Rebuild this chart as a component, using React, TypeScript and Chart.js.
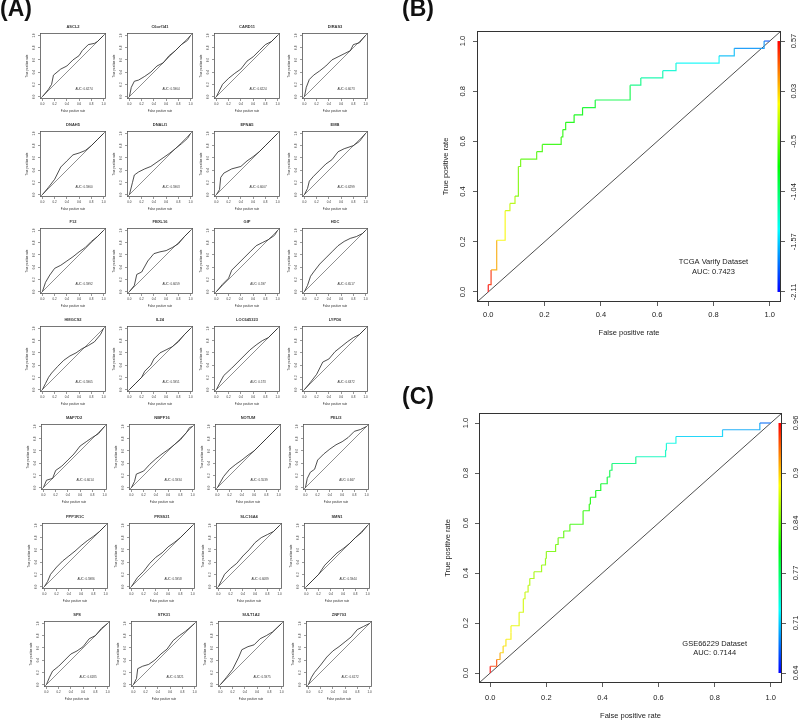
import React, { useEffect, useRef } from "react";
import { Chart, registerables } from "chart.js";
Chart.register(...registerables);

const FONT = "'Liberation Sans', Arial, Helvetica, sans-serif";

// ---------- shared axis data ----------
const AXIS_TICKS = [0, 0.2, 0.4, 0.6, 0.8, 1.0];
const AXIS_RANGE = [-0.04, 1.04];

// ---------- panel A: 28 single-gene ROC curves ----------
const GENES = [
  "ASCL2", "C6orf141", "CARD11", "DIRAS3",
  "DNAH5", "DNALI1", "EFNA5", "EMB",
  "F12", "FBXL16", "GIP", "HDC",
  "HMGCS2", "IL24", "LOC645323", "LYPD6",
  "MAP7D2", "NBPF16", "NOTUM", "PELI3",
  "PPP1R1C", "PRSS21", "SLC16A4", "SMN1",
  "SP8", "STK31", "SULT1A2", "ZNF703",
];
const AUC_VALUES = [
  "0.6274", "0.5964", "0.6224", "0.6073",
  "0.5960", "0.5963", "0.6007", "0.6299",
  "0.5992", "0.6059", "0.597", "0.6517",
  "0.5965", "0.5951", "0.573", "0.6372",
  "0.6014", "0.5934", "0.5539", "0.667",
  "0.5986", "0.5958", "0.6089", "0.5944",
  "0.6185", "0.5821", "0.5975", "0.6172",
];
const SMALL_FPR: number[][] = [
  [0, 0.1, 0.15, 0.18, 0.3, 0.4, 0.5, 0.6, 0.65, 0.75, 0.85, 0.9, 1],
  [0, 0.03, 0.08, 0.15, 0.25, 0.35, 0.45, 0.55, 0.65, 0.75, 0.85, 0.95, 1],
  [0, 0.1, 0.2, 0.3, 0.4, 0.5, 0.6, 0.7, 0.8, 0.9, 1],
  [0, 0.03, 0.08, 0.15, 0.25, 0.35, 0.45, 0.55, 0.65, 0.75, 0.8, 0.9, 1],
  [0, 0.1, 0.2, 0.3, 0.4, 0.5, 0.6, 0.7, 0.8, 0.9, 1],
  [0, 0.05, 0.08, 0.15, 0.25, 0.35, 0.45, 0.55, 0.65, 0.75, 0.85, 0.95, 1],
  [0, 0.05, 0.07, 0.12, 0.25, 0.4, 0.5, 0.6, 0.7, 0.8, 0.9, 1],
  [0, 0.05, 0.08, 0.15, 0.25, 0.35, 0.45, 0.55, 0.65, 0.8, 0.9, 1],
  [0, 0.05, 0.12, 0.2, 0.3, 0.4, 0.5, 0.6, 0.7, 0.8, 0.9, 1],
  [0, 0.08, 0.12, 0.2, 0.3, 0.4, 0.5, 0.6, 0.7, 0.8, 0.9, 1],
  [0, 0.1, 0.2, 0.25, 0.35, 0.45, 0.55, 0.65, 0.75, 0.85, 0.95, 1],
  [0, 0.05, 0.1, 0.15, 0.25, 0.35, 0.45, 0.55, 0.65, 0.75, 0.85, 0.95, 1],
  [0, 0.05, 0.1, 0.15, 0.25, 0.35, 0.45, 0.55, 0.65, 0.75, 0.85, 0.95, 1],
  [0, 0.1, 0.2, 0.25, 0.35, 0.4, 0.5, 0.6, 0.7, 0.8, 0.9, 1],
  [0, 0.05, 0.12, 0.25, 0.35, 0.45, 0.55, 0.65, 0.75, 0.85, 1],
  [0, 0.1, 0.2, 0.3, 0.4, 0.5, 0.6, 0.7, 0.8, 0.9, 1],
  [0, 0.05, 0.15, 0.2, 0.3, 0.4, 0.5, 0.6, 0.7, 0.8, 0.9, 1],
  [0, 0.05, 0.08, 0.2, 0.3, 0.4, 0.5, 0.6, 0.7, 0.8, 0.9, 0.95, 1],
  [0, 0.1, 0.2, 0.3, 0.4, 0.5, 0.6, 0.7, 0.8, 0.9, 1],
  [0, 0.03, 0.08, 0.15, 0.2, 0.3, 0.4, 0.5, 0.6, 0.7, 0.8, 0.9, 1],
  [0, 0.05, 0.1, 0.2, 0.3, 0.4, 0.5, 0.6, 0.7, 0.8, 0.9, 1],
  [0, 0.1, 0.2, 0.3, 0.4, 0.5, 0.6, 0.7, 0.8, 0.9, 1],
  [0, 0.05, 0.1, 0.2, 0.3, 0.4, 0.5, 0.6, 0.7, 0.8, 0.9, 1],
  [0, 0.1, 0.2, 0.3, 0.4, 0.5, 0.6, 0.7, 0.8, 0.9, 1],
  [0, 0.05, 0.1, 0.2, 0.3, 0.4, 0.5, 0.6, 0.7, 0.8, 0.9, 1],
  [0, 0.05, 0.07, 0.15, 0.25, 0.35, 0.45, 0.55, 0.65, 0.75, 0.85, 1],
  [0, 0.1, 0.2, 0.3, 0.35, 0.45, 0.55, 0.65, 0.75, 0.85, 1],
  [0, 0.05, 0.1, 0.2, 0.3, 0.4, 0.5, 0.6, 0.7, 0.8, 0.9, 1],
];
const SMALL_TPR: number[][] = [
  [0, 0.12, 0.2, 0.35, 0.45, 0.5, 0.6, 0.67, 0.75, 0.85, 0.87, 0.9, 1],
  [0, 0.15, 0.25, 0.27, 0.33, 0.4, 0.5, 0.55, 0.67, 0.75, 0.85, 0.92, 1],
  [0, 0.2, 0.3, 0.38, 0.45, 0.58, 0.65, 0.75, 0.85, 0.9, 1],
  [0, 0.15, 0.28, 0.35, 0.42, 0.5, 0.6, 0.65, 0.7, 0.75, 0.85, 0.88, 1],
  [0, 0.12, 0.25, 0.45, 0.55, 0.65, 0.68, 0.72, 0.8, 0.9, 1],
  [0, 0.2, 0.32, 0.37, 0.42, 0.46, 0.53, 0.6, 0.67, 0.75, 0.83, 0.92, 1],
  [0, 0.08, 0.28, 0.35, 0.42, 0.46, 0.55, 0.62, 0.7, 0.8, 0.9, 1],
  [0, 0.1, 0.22, 0.3, 0.4, 0.5, 0.57, 0.7, 0.75, 0.8, 0.87, 1],
  [0, 0.15, 0.27, 0.38, 0.43, 0.5, 0.57, 0.65, 0.72, 0.82, 0.9, 1],
  [0, 0.1, 0.28, 0.32, 0.5, 0.62, 0.65, 0.67, 0.72, 0.78, 0.9, 1],
  [0, 0.12, 0.22, 0.35, 0.45, 0.55, 0.65, 0.75, 0.8, 0.85, 0.92, 1],
  [0, 0.1, 0.25, 0.32, 0.45, 0.55, 0.65, 0.75, 0.82, 0.87, 0.9, 0.95, 1],
  [0, 0.1, 0.2, 0.27, 0.38, 0.48, 0.55, 0.6, 0.67, 0.72, 0.78, 0.9, 1],
  [0, 0.1, 0.2, 0.3, 0.4, 0.5, 0.6, 0.65, 0.7, 0.78, 0.9, 1],
  [0, 0.1, 0.23, 0.35, 0.45, 0.55, 0.65, 0.73, 0.8, 0.85, 1],
  [0, 0.12, 0.25, 0.45, 0.5, 0.62, 0.7, 0.78, 0.85, 0.9, 1],
  [0, 0.12, 0.15, 0.28, 0.35, 0.45, 0.55, 0.68, 0.75, 0.82, 0.88, 1],
  [0, 0.1, 0.22, 0.27, 0.38, 0.47, 0.55, 0.62, 0.7, 0.78, 0.9, 0.98, 1],
  [0, 0.18, 0.3, 0.38, 0.45, 0.53, 0.6, 0.7, 0.8, 0.9, 1],
  [0, 0.15, 0.25, 0.3, 0.45, 0.55, 0.63, 0.7, 0.75, 0.82, 0.92, 0.95, 1],
  [0, 0.08, 0.2, 0.32, 0.42, 0.5, 0.58, 0.67, 0.75, 0.82, 0.9, 1],
  [0, 0.15, 0.25, 0.38, 0.48, 0.55, 0.65, 0.72, 0.8, 0.9, 1],
  [0, 0.1, 0.2, 0.3, 0.38, 0.5, 0.6, 0.72, 0.8, 0.85, 0.9, 1],
  [0, 0.1, 0.2, 0.35, 0.45, 0.55, 0.62, 0.7, 0.8, 0.88, 1],
  [0, 0.12, 0.22, 0.3, 0.4, 0.5, 0.55, 0.62, 0.75, 0.8, 0.92, 1],
  [0, 0.1, 0.26, 0.3, 0.33, 0.4, 0.5, 0.58, 0.72, 0.8, 0.87, 1],
  [0, 0.12, 0.25, 0.45, 0.57, 0.62, 0.65, 0.75, 0.8, 0.86, 1],
  [0, 0.12, 0.2, 0.32, 0.45, 0.55, 0.62, 0.7, 0.78, 0.9, 0.95, 1],
];

// ---------- panel B: TCGA validation ----------
const B_FPR = [0, 0, 0.01, 0.03, 0.06, 0.077, 0.095, 0.107, 0.115, 0.172, 0.192, 0.259, 0.265, 0.275, 0.305, 0.335, 0.38, 0.504, 0.542, 0.62, 0.667, 0.82, 0.874, 0.98, 1.0];
const B_TPR = [0, 0.029, 0.088, 0.206, 0.324, 0.353, 0.382, 0.5, 0.529, 0.559, 0.588, 0.618, 0.647, 0.676, 0.706, 0.735, 0.765, 0.824, 0.853, 0.882, 0.912, 0.941, 0.971, 1.0, 1.0];
const B_CUT = [0.57, 0.57, 0.46, 0.12, -0.10, -0.23, -0.30, -0.44, -0.49, -0.55, -0.60, -0.66, -0.68, -0.71, -0.75, -0.79, -0.86, -0.94, -1.11, -1.22, -1.33, -1.44, -1.61, -1.72, -1.89];
const B_BAR_LABELS = ["-2.11", "-1.57", "-1.04", "-0.5", "0.03", "0.57"];
const B_NOTES = ["TCGA Varify Dataset", "AUC: 0.7423"];

// ---------- panel C: GSE66229 validation ----------
const C_FPR = [0, 0, 0.023, 0.035, 0.046, 0.056, 0.074, 0.074, 0.103, 0.118, 0.124, 0.135, 0.141, 0.156, 0.183, 0.197, 0.2, 0.233, 0.242, 0.262, 0.284, 0.331, 0.353, 0.357, 0.376, 0.394, 0.417, 0.426, 0.434, 0.519, 0.625, 0.628, 0.662, 0.828, 0.961, 1.0];
const C_TPR = [0, 0.027, 0.054, 0.081, 0.108, 0.135, 0.162, 0.189, 0.243, 0.297, 0.324, 0.351, 0.378, 0.405, 0.432, 0.459, 0.486, 0.514, 0.541, 0.568, 0.595, 0.649, 0.676, 0.703, 0.73, 0.757, 0.784, 0.811, 0.838, 0.865, 0.892, 0.919, 0.946, 0.973, 1.0, 1.0];
const C_CUT = [0.96, 0.96, 0.94, 0.907, 0.893, 0.887, 0.883, 0.88, 0.873, 0.867, 0.864, 0.86, 0.856, 0.853, 0.849, 0.845, 0.843, 0.837, 0.833, 0.829, 0.824, 0.816, 0.811, 0.805, 0.8, 0.793, 0.787, 0.78, 0.773, 0.76, 0.74, 0.733, 0.727, 0.707, 0.693, 0.673];
const C_BAR_LABELS = ["0.64", "0.71", "0.77", "0.84", "0.9", "0.96"];
const C_NOTES = ["GSE66229 Dataset", "AUC: 0.7144"];

// ---------- layout (styles) ----------
const GRID_COL_X = [39.5, 127, 213.5, 301.5];
const GRID_ROW_Y = [33, 131, 228, 326, 424, 523, 621];
const GRID_ROW_DX = [0, 0, 0, 0, 1.5, 2, 4];

function rot(ctx: any, s: string, x: number, y: number) {
  ctx.save();
  ctx.translate(x, y);
  ctx.rotate(-Math.PI / 2);
  ctx.fillText(s, 0, 0);
  ctx.restore();
}

function decoPlugin(spec: any) {
  return {
    id: "rDeco",
    afterDraw(chart: any) {
      const { ctx, chartArea: a } = chart;
      const xs = chart.scales.x;
      const ys = chart.scales.y;
      ctx.save();
      if (spec.barLabels) {
        const t = ys.getPixelForValue(1);
        const b = ys.getPixelForValue(0);
        const g = ctx.createLinearGradient(0, t, 0, b);
        for (let k = 0; k <= 24; k++) g.addColorStop(k / 24, `hsl(${k * 10},100%,50%)`);
        ctx.fillStyle = g;
        ctx.fillRect(a.right - spec.barW, t, spec.barW, b - t);
      }
      ctx.strokeStyle = spec.boxColor;
      ctx.lineWidth = spec.boxW;
      ctx.strokeRect(Math.round(a.left) + 0.5, Math.round(a.top) + 0.5, Math.round(a.right - a.left) - 1, Math.round(a.bottom - a.top) - 1);
      ctx.fillStyle = spec.textColor;
      ctx.textAlign = "center";
      ctx.textBaseline = "middle";
      ctx.font = `${spec.fs}px ${FONT}`;
      for (const v of AXIS_TICKS) {
        ctx.fillText(v.toFixed(1), xs.getPixelForValue(v), a.bottom + spec.xTick);
        rot(ctx, v.toFixed(1), a.left - spec.yTick, ys.getPixelForValue(v));
      }
      ctx.fillText("False positive rate", (a.left + a.right) / 2, a.bottom + spec.xLab);
      rot(ctx, "True positive rate", a.left - spec.yLab, (a.top + a.bottom) / 2);
      if (spec.barLabels) {
        spec.barLabels.forEach((s: string, k: number) => rot(ctx, s, a.right + spec.barOff, ys.getPixelForValue(AXIS_TICKS[k])));
      }
      ctx.font = `${spec.nfs}px ${FONT}`;
      spec.notes.forEach((s: string, k: number) => ctx.fillText(s, xs.getPixelForValue(spec.noteX), ys.getPixelForValue(spec.noteY[k])));
      if (spec.title) {
        ctx.font = `bold ${spec.tfs}px ${FONT}`;
        ctx.fillText(spec.title, (a.left + a.right) / 2, a.top - spec.titleOff);
      }
      ctx.restore();
    },
  };
}

function makeConfig(p: any) {
  const tickFn = (s: any) => {
    s.ticks = AXIS_TICKS.map((v) => ({ value: v }));
  };
  const grid = { display: true, drawOnChartArea: false, drawTicks: true, tickLength: p.tickLen, color: p.tickColor, lineWidth: p.tickW };
  const base = {
    type: "linear",
    min: AXIS_RANGE[0],
    max: AXIS_RANGE[1],
    afterBuildTicks: tickFn,
    ticks: { display: false },
    border: { display: false },
    grid,
  };
  return {
    type: "line",
    data: { datasets: p.datasets },
    options: {
      responsive: false,
      animation: false,
      devicePixelRatio: 1,
      events: [],
      layout: { padding: { top: p.padTop, left: 0, right: 0, bottom: 0 } },
      plugins: { legend: { display: false }, tooltip: { enabled: false }, title: { display: false } },
      scales: {
        x: { ...base, position: "bottom", afterFit: (s: any) => { s.height = p.xh; } },
        y: { ...base, position: "left", afterFit: (s: any) => { s.width = p.yw; } },
        yc: { ...base, position: "right", afterFit: (s: any) => { s.width = p.rw; }, grid: p.barTicks ? grid : { display: false } },
      },
    },
    plugins: [decoPlugin(p.deco)],
  };
}

function diagonal(color: string, w: number) {
  return {
    data: [{ x: AXIS_RANGE[0], y: AXIS_RANGE[0] }, { x: AXIS_RANGE[1], y: AXIS_RANGE[1] }],
    borderColor: color,
    borderWidth: w,
    pointRadius: 0,
  };
}

function smallConfig(i: number) {
  return makeConfig({
    padTop: 14, xh: 20, yw: 30, rw: 6,
    tickLen: 2, tickColor: "#555", tickW: 0.6, barTicks: false,
    datasets: [
      {
        data: SMALL_FPR[i].map((f, k) => ({ x: f, y: SMALL_TPR[i][k] })),
        borderColor: "#222",
        borderWidth: 0.8,
        pointRadius: 0,
      },
      diagonal("#444", 0.6),
    ],
    deco: {
      boxColor: "#555", boxW: 0.8, textColor: "#333",
      fs: 3, xTick: 5.5, yTick: 6, xLab: 12.5, yLab: 13,
      nfs: 3, notes: ["AUC: " + AUC_VALUES[i]], noteX: 0.68, noteY: [0.12],
      title: GENES[i], tfs: 4, titleOff: 6.5,
    },
  });
}

function bigConfig(fpr: number[], tpr: number[], cut: number[], barLabels: string[], notes: string[], geo: any) {
  const vals = barLabels.map(Number);
  const lo = Math.min(...vals);
  const hi = Math.max(...vals);
  const hue = (c: number) => (240 * (hi - c)) / (hi - lo);
  return makeConfig({
    padTop: geo.padTop, xh: geo.xh, yw: geo.yw, rw: geo.rw,
    tickLen: 4, tickColor: "#333", tickW: 0.8, barTicks: true,
    datasets: [
      {
        data: fpr.map((f, k) => ({ x: f, y: tpr[k] })),
        stepped: "before",
        borderWidth: 1.2,
        pointRadius: 0,
        borderColor: "hsl(0,100%,55%)",
        segment: { borderColor: (ctx: any) => `hsl(${hue(cut[ctx.p1DataIndex])},95%,56%)` },
      },
      diagonal("#222", 0.8),
    ],
    deco: {
      boxColor: "#333", boxW: 1, textColor: "#222",
      fs: 7.5, xTick: geo.xTick, yTick: geo.yTick, xLab: geo.xLab, yLab: geo.yLab,
      barLabels, barOff: geo.barOff, barW: 3.5,
      nfs: 7.5, notes, noteX: 0.8, noteY: geo.noteY,
    },
  });
}

function ChartCanvas({ left, top, width, height, build }: any) {
  const ref = useRef<HTMLCanvasElement>(null);
  useEffect(() => {
    const chart = new Chart(ref.current as HTMLCanvasElement, build());
    return () => chart.destroy();
  }, []);
  return (
    <canvas
      ref={ref}
      width={width}
      height={height}
      style={{ position: "absolute", left, top, width, height }}
    />
  );
}

const panelLabel = (left: number, top: number): React.CSSProperties => ({
  position: "absolute",
  left,
  top,
  font: `bold 23px ${FONT}`,
  lineHeight: "23px",
  color: "#111",
});

export default function App() {
  return (
    <div style={{ position: "absolute", left: 0, top: 0, width: 800, height: 722, background: "#fff", overflow: "hidden" }}>
      {GENES.map((g, i) => {
        const r = Math.floor(i / 4);
        const c = i % 4;
        const x0 = Math.round(GRID_COL_X[c] + GRID_ROW_DX[r]);
        const y0 = GRID_ROW_Y[r];
        return <ChartCanvas key={g} left={x0 - 30} top={y0 - 14} width={102} height={100} build={() => smallConfig(i)} />;
      })}
      <ChartCanvas
        left={400}
        top={0}
        width={400}
        height={360}
        build={() =>
          bigConfig(B_FPR, B_TPR, B_CUT, B_BAR_LABELS, B_NOTES, {
            padTop: 31, xh: 58, yw: 77, rw: 19,
            xTick: 13, yTick: 14, xLab: 31, yLab: 31, barOff: 13.3, noteY: [0.12, 0.08],
          })
        }
      />
      <ChartCanvas
        left={400}
        top={360}
        width={400}
        height={362}
        build={() =>
          bigConfig(C_FPR, C_TPR, C_CUT, C_BAR_LABELS, C_NOTES, {
            padTop: 53, xh: 39, yw: 79, rw: 18,
            xTick: 14.7, yTick: 13.5, xLab: 32.7, yLab: 31, barOff: 13.7, noteY: [0.115, 0.079],
          })
        }
      />
      <div style={panelLabel(0, -3)}>(A)</div>
      <div style={panelLabel(402, -3)}>(B)</div>
      <div style={panelLabel(402, 385)}>(C)</div>
    </div>
  );
}
